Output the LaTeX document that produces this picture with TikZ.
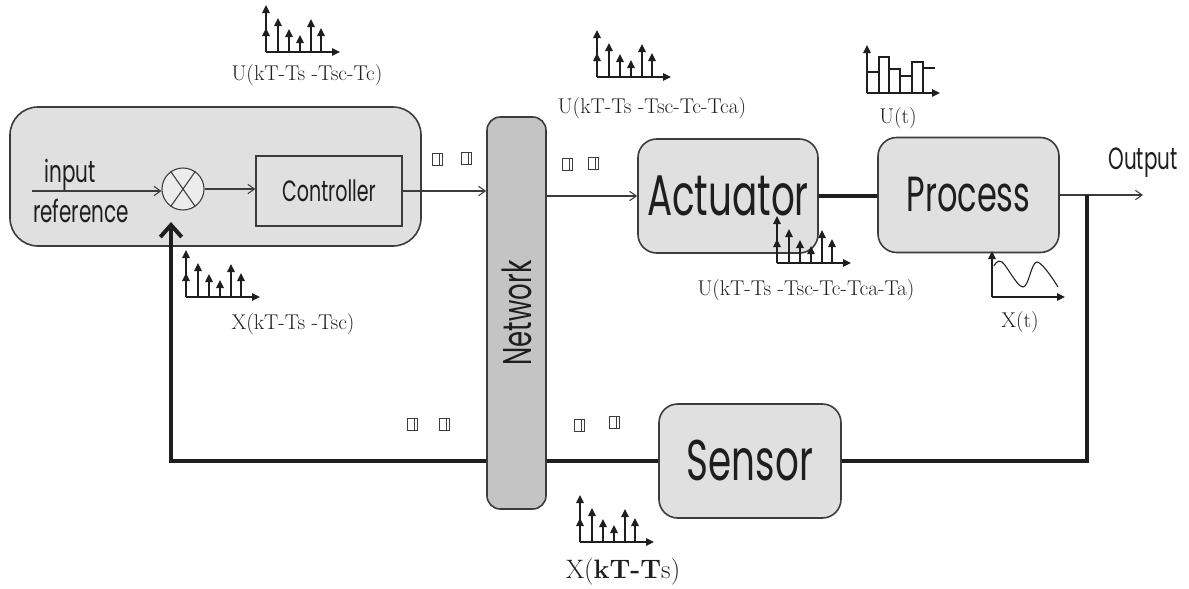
\documentclass[tikz,border=0pt]{standalone}
\usepackage{fontspec}
\usepackage{xcolor}
\usetikzlibrary{arrows.meta,calc}
\newfontfamily\gothic[FakeStretch=0.65]{Poppins}
\definecolor{boxgray}{RGB}{224,224,224}
\definecolor{netgray}{RGB}{196,196,196}
\definecolor{sumgray}{RGB}{236,236,236}
\definecolor{linegray}{RGB}{60,60,60}
\definecolor{inkgray}{RGB}{30,30,30}

\tikzset{
  block/.style={draw=linegray, line width=1.2pt, fill=boxgray, rounded corners=14pt, text=inkgray, font=\gothic},
  sigline/.style={draw=linegray, line width=0.8pt, -{Straight Barb[length=5pt,width=7pt]}},
  thickline/.style={draw=inkgray, line width=3pt},
  spike/.style={draw=inkgray, line width=1.2pt, -{Triangle[length=6pt,width=5.5pt]}},
  lbl/.style={inner sep=0.75pt, text=inkgray, font=\fontsize{16}{18}\selectfont},
  sanslbl/.style={inner sep=0.75pt, text=inkgray, font=\gothic\fontsize{23}{25}\selectfont},
  pics/glyphbox/.style={code={
    \draw[line width=0.6pt, draw=linegray] (-5,-6) rectangle (5,6);
    \draw[line width=0.6pt, draw=linegray] (2,-6) -- (2,6);}},
}

% sampled pulse train, #1 = origin of the axes
\newcommand{\pulsetrain}[1]{%
  \begin{scope}[shift={#1}]
    \draw[spike] (0,0) -- (0,-47);
    \foreach \px/\py in {0/-24,12/-34,23/-23,34/-17,45/-33,55/-24}
      \draw[spike] (\px,0) -- (\px,\py);
    \draw[spike] (0,0) -- (74,0);
  \end{scope}}

\begin{document}
\begin{tikzpicture}[x=0.75pt,y=0.75pt,yscale=-1,xscale=1]
\useasboundingbox (0,0) rectangle (1189,589);

% Blocks
\node[block, rounded corners=21pt, minimum width=308.25pt, minimum height=104.25pt] (ctrlbox) at (215.5,176.5) {};
\node[circle, draw=linegray, line width=0.8pt, fill=sumgray, minimum size=31.5pt, inner sep=0pt] (sum) at (183,189) {};
\node[draw=linegray, line width=0.9pt, fill=boxgray, minimum width=109.5pt, minimum height=52.5pt, text=inkgray, font=\gothic\fontsize{22}{24}\selectfont] (controller) at (329,191) {Controller};
\node[block, fill=netgray, rounded corners=10pt, minimum width=44.25pt, minimum height=294pt, font=\gothic\fontsize{30}{32}\selectfont] (network) at (516.5,313) {\rotatebox{90}{Network}};
\node[block, minimum width=135pt, minimum height=85.5pt, font=\gothic\fontsize{43}{45}\selectfont] (actuator) at (728,196) {Actuator};
\node[block, minimum width=135.75pt, minimum height=86.25pt, font=\gothic\fontsize{37}{39}\selectfont] (process) at (968.5,195) {\raisebox{-6pt}{Process}};
\node[block, minimum width=136.5pt, minimum height=85.5pt, font=\gothic\fontsize{43}{45}\selectfont] (sensor) at (750,461) {Sensor};

% free ends
\coordinate (inref) at (32,191);
\coordinate (outend) at (1143,195);
\coordinate (tap) at (1087,195);
\coordinate (fbtip) at (171,222);

% summing junction
\draw[line width=0.8pt, draw=linegray] (sum.125) -- (sum.-55);
\draw[line width=0.8pt, draw=linegray] (sum.55) -- (sum.-125);

% Connectors
\draw[sigline] (inref) -- (inref -| sum.west);
\draw[sigline] (sum.east) -- (sum.east -| controller.west);
\draw[sigline] (controller.east) -- (controller.east -| network.west);
\draw[sigline] (actuator.west -| network.east) -- (actuator.west);
\draw[thickline] (actuator.east) -- (actuator.east -| process.west);
\draw[sigline] (process.east) -- (outend);
\draw[thickline] (tap) |- (sensor.east);
\draw[thickline] (sensor.west) -- (sensor.west -| network.east);
\draw[thickline, -{Straight Barb[length=9pt,width=16pt]}] (sensor.west -| network.west) -| (fbtip);

% Text Node
\draw (70,175) node[sanslbl] {input};
\draw (81,211) node[sanslbl] {reference};
\draw (1143,163) node[sanslbl] {Output};

% packets
\pic at (437,159) {glyphbox};
\pic at (466,158) {glyphbox};
\pic at (567,164) {glyphbox};
\pic at (593,163) {glyphbox};
\pic at (412,424) {glyphbox};
\pic at (444,424) {glyphbox};
\pic at (579,425) {glyphbox};
\pic at (614,422) {glyphbox};

% sampled signals
\pulsetrain{(266,52)}
\draw (307,75) node[lbl] {U(kT-Ts -Tsc-Tc)};
\pulsetrain{(597,77)}
\draw (652,108) node[lbl] {U(kT-Ts -Tsc-Tc-Tca)};
\pulsetrain{(777,263)}
\draw (806,290) node[lbl] {U(kT-Ts -Tsc-Tc-Tca-Ta)};
\pulsetrain{(186,297)}
\draw (293,324) node[lbl] {X(kT-Ts -Tsc)};
\pulsetrain{(580,542)}
\draw (623,572) node[lbl, font=\fontsize{20}{22}\selectfont] {X(\textbf{kT-T}s)};

% continuous signals
\draw[spike] (867,93) -- (867,45);
\draw[spike] (867,93) -- (940,93);
\draw[line width=0.8pt, draw=inkgray] (867,72) -- (879,72) -- (879,57) -- (889,57) -- (889,69) -- (900,69) -- (900,76) -- (912,76) -- (912,62) -- (923,62) -- (923,68) -- (935,68);
\foreach \bx/\by in {879/57,889/57,900/69,912/62,923/62}
  \draw[line width=0.8pt, draw=inkgray] (\bx,\by) -- (\bx,93);
\draw (898,118) node[lbl] {U(t)};

\draw[spike] (992,297) -- (992,251);
\draw[spike] (992,297) -- (1065,297);
\draw[line width=0.8pt, draw=inkgray] plot[smooth, tension=0.6] coordinates {(994,266) (1002,262) (1023,287) (1037,262) (1058,287)};
\draw (1020,322) node[lbl] {X(t)};

\end{tikzpicture}
\end{document}
